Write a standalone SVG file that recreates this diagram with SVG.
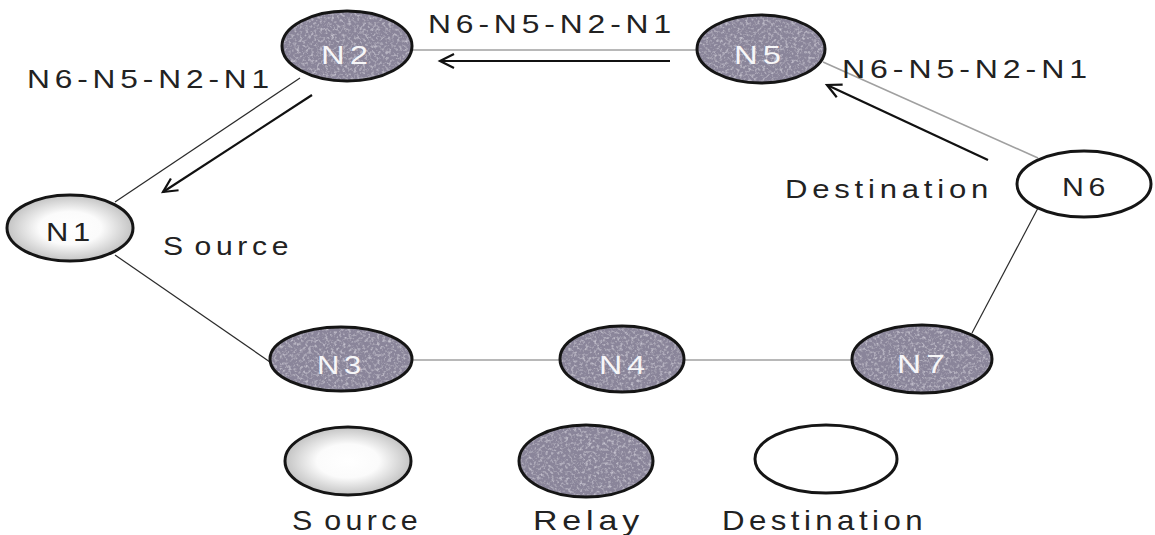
<svg xmlns="http://www.w3.org/2000/svg" width="1155" height="535" viewBox="0 0 1155 535">
<style>
.relayfill{fill:#8a859a;filter:url(#mottle);}
.ring{fill:none;stroke:#151515;stroke-width:3;}
.src{fill:url(#srcGrad);stroke:#151515;stroke-width:3;}
.dst{fill:#ffffff;stroke:#151515;stroke-width:3;}
.edge{stroke:#a0a0a0;stroke-width:1.6;fill:none;}
.edgeDark{stroke:#2a2a2a;stroke-width:1.2;fill:none;}
.arrow{stroke:#111;stroke-width:2.2;fill:none;marker-end:url(#ah);}
.lbl{font-family:"Liberation Sans",Arial,sans-serif;fill:#222;letter-spacing:4px;}
.nlw{font-family:"Liberation Sans",Arial,sans-serif;fill:#f6f6f8;font-size:26px;letter-spacing:4px;}
.nld{font-family:"Liberation Sans",Arial,sans-serif;fill:#222;font-size:26px;letter-spacing:4px;}
</style>
<defs>
<radialGradient id="srcGrad" cx="50%" cy="50%" r="55%">
<stop offset="0" stop-color="#ffffff"/>
<stop offset="0.45" stop-color="#fbfbfb"/>
<stop offset="1" stop-color="#b8b8b8"/>
</radialGradient>
<filter id="mottle" x="0" y="0" width="100%" height="100%">
<feTurbulence type="fractalNoise" baseFrequency="0.35" numOctaves="3" seed="7" result="n"/>
<feColorMatrix in="n" type="matrix" values="0 0 0 0 0.78  0 0 0 0 0.76  0 0 0 0 0.84  1.5 0 0 0 -0.72" result="spots"/>
<feComposite in="spots" in2="SourceGraphic" operator="in" result="s"/>
<feMerge><feMergeNode in="SourceGraphic"/><feMergeNode in="s"/></feMerge>
</filter>
<marker id="ah" markerUnits="userSpaceOnUse" markerWidth="20" markerHeight="20" viewBox="-16 -10 20 20" refX="0" refY="0" orient="auto">
<path d="M-14,-7 L0,0 L-14,7" fill="none" stroke="#111" stroke-width="2.2"/>
</marker>
</defs>
<rect width="1155" height="535" fill="#ffffff"/>

<g id="connectors">
<line class="edge" x1="412" y1="50" x2="697" y2="50"/>
<line class="edgeDark" x1="300" y1="78" x2="115" y2="202"/>
<line class="edgeDark" x1="115" y1="255" x2="270" y2="362"/>
<line class="edge" x1="412" y1="360" x2="560" y2="360"/>
<line class="edge" x1="684" y1="360" x2="852" y2="360"/>
<line class="edgeDark" x1="972" y1="333" x2="1038" y2="208"/>
<line class="edge" x1="823" y1="62" x2="1038" y2="158"/>
<line class="arrow" x1="670" y1="61" x2="440" y2="61"/>
<line class="arrow" x1="312" y1="95" x2="163" y2="192"/>
<line class="arrow" x1="988" y1="160" x2="827" y2="85"/>
</g>

<g id="N1">
<ellipse class="src" cx="70" cy="228" rx="63" ry="33"/>
<text class="nld" x="46" y="241" textLength="49" lengthAdjust="spacingAndGlyphs">N1</text>
</g>
<g id="N2">
<ellipse class="relayfill" cx="347" cy="46" rx="65" ry="35"/>
<ellipse class="ring" cx="347" cy="46" rx="65" ry="35"/>
<text class="nlw" x="321" y="64" textLength="52" lengthAdjust="spacingAndGlyphs">N2</text>
</g>
<g id="N5">
<ellipse class="relayfill" cx="761" cy="49" rx="64" ry="34"/>
<ellipse class="ring" cx="761" cy="49" rx="64" ry="34"/>
<text class="nlw" x="734" y="64" textLength="52" lengthAdjust="spacingAndGlyphs">N5</text>
</g>
<g id="N6">
<ellipse class="dst" cx="1084" cy="184" rx="67" ry="33"/>
<text class="nld" x="1062" y="196" textLength="48" lengthAdjust="spacingAndGlyphs">N6</text>
</g>
<g id="N3">
<ellipse class="relayfill" cx="341" cy="359" rx="71" ry="32"/>
<ellipse class="ring" cx="341" cy="359" rx="71" ry="32"/>
<text class="nlw" x="317" y="374" textLength="49" lengthAdjust="spacingAndGlyphs">N3</text>
</g>
<g id="N4">
<ellipse class="relayfill" cx="622" cy="359" rx="62" ry="33"/>
<ellipse class="ring" cx="622" cy="359" rx="62" ry="33"/>
<text class="nlw" x="599" y="374" textLength="51" lengthAdjust="spacingAndGlyphs">N4</text>
</g>
<g id="N7">
<ellipse class="relayfill" cx="922" cy="359" rx="70" ry="34"/>
<ellipse class="ring" cx="922" cy="359" rx="70" ry="34"/>
<text class="nlw" x="897" y="373" textLength="53" lengthAdjust="spacingAndGlyphs">N7</text>
</g>

<g id="labels">
<text class="lbl" x="428" y="33" font-size="26" textLength="248" lengthAdjust="spacingAndGlyphs">N6-N5-N2-N1</text>
<text class="lbl" x="842" y="78" font-size="26" textLength="250" lengthAdjust="spacingAndGlyphs">N6-N5-N2-N1</text>
<text class="lbl" x="27" y="88" font-size="26" textLength="247" lengthAdjust="spacingAndGlyphs">N6-N5-N2-N1</text>
<text class="lbl" x="163" y="255" font-size="26" textLength="130" lengthAdjust="spacingAndGlyphs">S<tspan dx="6">ource</tspan></text>
<text class="lbl" x="785" y="198" font-size="26" textLength="208" lengthAdjust="spacingAndGlyphs">Destination</text>
</g>

<g id="legend">
<g id="legend-source">
<ellipse class="src" cx="348" cy="461" rx="63" ry="34"/>
<text class="lbl" x="292" y="530" font-size="28" textLength="130" lengthAdjust="spacingAndGlyphs">S<tspan dx="7">ource</tspan></text>
</g>
<g id="legend-relay">
<ellipse class="relayfill" cx="586" cy="461" rx="67" ry="36"/>
<ellipse class="ring" cx="586" cy="461" rx="67" ry="36"/>
<text class="lbl" x="533" y="530" font-size="28" textLength="111" lengthAdjust="spacingAndGlyphs">Relay</text>
</g>
<g id="legend-destination">
<ellipse class="dst" cx="826" cy="459" rx="71" ry="34"/>
<text class="lbl" x="722" y="530" font-size="28" textLength="205" lengthAdjust="spacingAndGlyphs">Destination</text>
</g>
</g>
</svg>
